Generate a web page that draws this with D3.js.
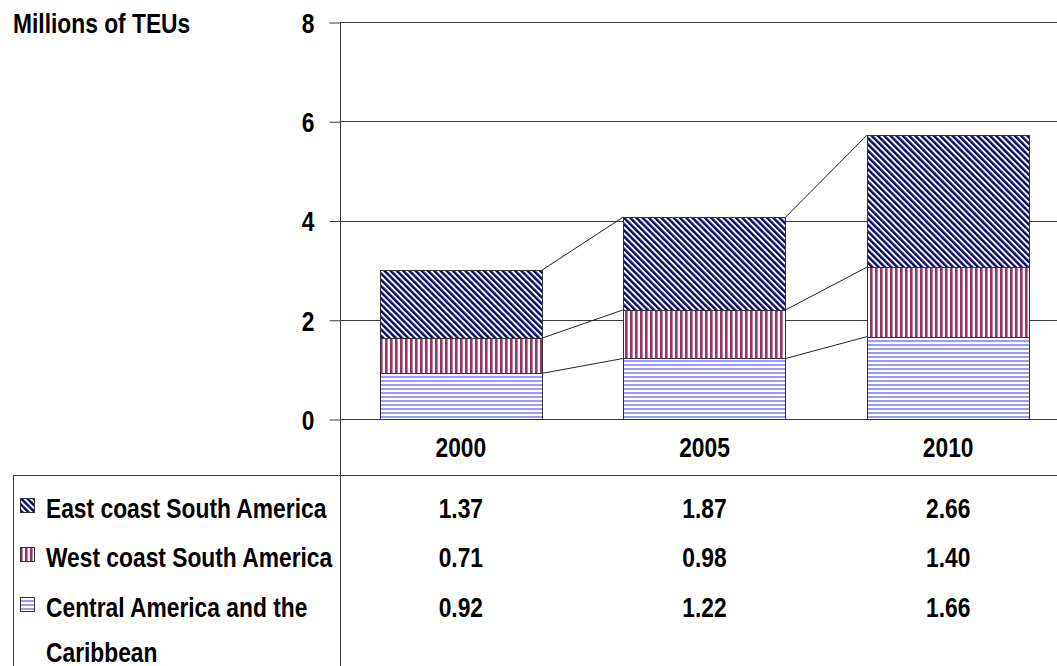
<!DOCTYPE html>
<html lang="en">
<head>
    <meta charset="UTF-8">
    <title>Millions of TEUs</title>
    <script src="https://d3js.org/d3.v7.min.js"></script>
    <style>
        body { margin: 0; background: #fff; }
        text {
            font-family: "Liberation Sans", Arial, sans-serif;
            font-weight: bold;
            font-size: 22.8px;
            fill: #000;
        }
    </style>
</head>
<body>
    <div id="chart"></div>

    <script>
        // data
        const years = ["2000", "2005", "2010"];
        const seriesNames = ["Central America and the Caribbean", "West coast South America", "East coast South America"];
        const central = [0.92, 1.22, 1.66];
        const westCoast = [0.71, 0.98, 1.40];
        const eastCoast = [1.37, 1.87, 2.66];
        const yTicks = [0, 2, 4, 6, 8];

        const W = 1057, H = 666;
        const plotLeft = 340, plotTop = 22, plotBottom = 419;
        const SY = 1.2; // text is drawn a bit taller than the font

        const svg = d3.select("#chart").append("svg")
            .attr("width", W)
            .attr("height", H);

        // tall text helper
        function label(g, x, y, str, anchor) {
            return g.append("text")
                .attr("transform", `translate(${x},${y}) scale(1,${SY})`)
                .attr("text-anchor", anchor || "start")
                .text(str);
        }

        // patterns
        const defs = svg.append("defs");
        const pDiag = defs.append("pattern").attr("id", "pat-east")
            .attr("patternUnits", "userSpaceOnUse").attr("width", 4.4).attr("height", 4.4)
            .attr("patternTransform", "rotate(-45)");
        pDiag.append("rect").attr("width", 4.4).attr("height", 4.4).attr("fill", "#ffffcc");
        pDiag.append("rect").attr("width", 2.4).attr("height", 4.4).attr("fill", "#000080");

        const pVert = defs.append("pattern").attr("id", "pat-west")
            .attr("patternUnits", "userSpaceOnUse").attr("width", 5).attr("height", 5);
        pVert.append("rect").attr("width", 5).attr("height", 5).attr("fill", "#fff");
        pVert.append("rect").attr("width", 2.6).attr("height", 5).attr("fill", "#993366");

        const pHor = defs.append("pattern").attr("id", "pat-central")
            .attr("patternUnits", "userSpaceOnUse").attr("width", 4).attr("height", 4);
        pHor.append("rect").attr("width", 4).attr("height", 4).attr("fill", "#fff");
        pHor.append("rect").attr("width", 4).attr("height", 2).attr("fill", "#9999ff");

        const fills = ["url(#pat-central)", "url(#pat-west)", "url(#pat-east)"];

        // scales
        const x = d3.scaleBand()
            .domain(years)
            .range([339, 1070])
            .padding(0);
        const barW = x.bandwidth() / 1.5;
        const barOff = (x.bandwidth() - barW) / 2;

        const y = d3.scaleLinear()
            .domain([0, 8])
            .range([plotBottom, plotTop]);

        // stacked data
        const rows = years.map((yr, i) => ({ year: yr, s0: central[i], s1: westCoast[i], s2: eastCoast[i] }));
        const stack = d3.stack().keys(["s0", "s1", "s2"])(rows);

        // gridlines
        svg.append("g")
            .selectAll("line")
            .data(yTicks)
            .enter().append("line")
            .attr("x1", plotLeft).attr("x2", W)
            .attr("y1", d => Math.round(y(d)) + 0.5)
            .attr("y2", d => Math.round(y(d)) + 0.5)
            .attr("stroke", "#3a3a3a");

        // y axis
        const yAxis = svg.append("g")
            .attr("transform", `translate(${plotLeft + 0.5},0.5)`)
            .call(d3.axisLeft(y).tickValues(yTicks).tickSize(11).tickPadding(15).tickFormat(d3.format("d")));
        yAxis.attr("font-family", null).attr("font-size", null);
        yAxis.select(".domain").remove();
        yAxis.selectAll(".tick line").attr("stroke", "#3a3a3a");
        yAxis.selectAll(".tick text")
            .attr("transform", `scale(1,${SY})`)
            .attr("x", -26)
            .attr("dy", "0.36em");

        // bars
        svg.append("g")
            .selectAll("g")
            .data(stack)
            .enter().append("g")
            .attr("fill", (d, i) => fills[i])
            .selectAll("rect")
            .data(d => d)
            .enter().append("rect")
            .attr("x", d => Math.round(x(d.data.year) + barOff) + 0.5)
            .attr("y", d => Math.round(y(d[1])) + 0.5)
            .attr("width", Math.round(barW))
            .attr("height", d => Math.round(y(d[0])) - Math.round(y(d[1])))
            .attr("stroke", "#333")
            .attr("stroke-width", 1);

        // series lines
        const seriesLines = svg.append("g");
        stack.forEach(layer => {
            for (let i = 0; i < layer.length - 1; i++) {
                seriesLines.append("line")
                    .attr("x1", x(years[i]) + barOff + barW)
                    .attr("y1", y(layer[i][1]))
                    .attr("x2", x(years[i + 1]) + barOff)
                    .attr("y2", y(layer[i + 1][1]))
                    .attr("stroke", "#222")
                    .attr("stroke-width", 1);
            }
        });

        // table lines
        const tableTop = 475;
        svg.append("line").attr("x1", plotLeft + 0.5).attr("x2", plotLeft + 0.5)
            .attr("y1", plotTop).attr("y2", H).attr("stroke", "#3a3a3a");
        svg.append("line").attr("x1", 13.5).attr("x2", 13.5)
            .attr("y1", tableTop).attr("y2", H).attr("stroke", "#3a3a3a");
        svg.append("line").attr("x1", 13).attr("x2", W)
            .attr("y1", tableTop + 0.5).attr("y2", tableTop + 0.5).attr("stroke", "#3a3a3a");

        // y title
        label(svg, 13, 33, "Millions of TEUs");

        // year labels
        const yearG = svg.append("g");
        years.forEach(d => label(yearG, x(d) + x.bandwidth() / 2, 457, d, "middle"));

        // table rows (top to bottom: east, west, central)
        const tableRows = [
            { values: eastCoast, fill: fills[2], label: [seriesNames[2]] },
            { values: westCoast, fill: fills[1], label: [seriesNames[1]] },
            { values: central, fill: fills[0], label: ["Central America and the", "Caribbean"] }
        ];
        const rowBase = [518, 567, 617];

        tableRows.forEach((r, i) => {
            const g = svg.append("g");
            g.append("rect")
                .attr("x", 20.5).attr("y", rowBase[i] - 19.5)
                .attr("width", 14).attr("height", 14)
                .attr("fill", r.fill)
                .attr("stroke", "#333");
            r.label.forEach((t, k) => label(g, 46, rowBase[i] + k * 45, t));
            r.values.forEach((v, j) => label(g, x(years[j]) + x.bandwidth() / 2, rowBase[i], v.toFixed(2), "middle"));
        });
    </script>
</body>
</html>
